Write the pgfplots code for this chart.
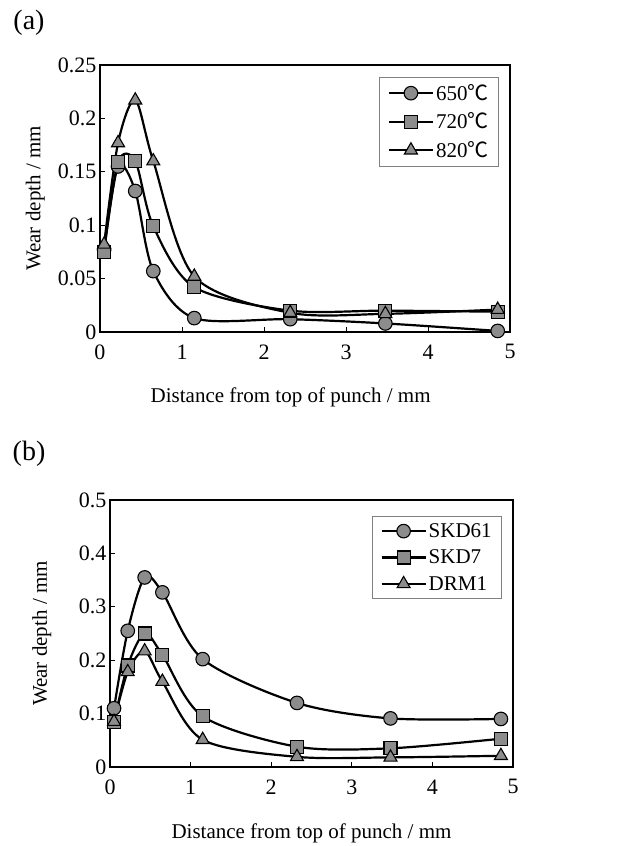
\documentclass[border=0pt]{standalone}
\usepackage{pgfplots}
\pgfplotsset{compat=1.18}
\usepackage{fontspec}
\setmainfont{Liberation Serif}
\newfontfamily\cjk{Noto Sans CJK SC}
\definecolor{mk}{gray}{0.55}
\newcommand{\degC}{{\cjk ℃}}
\pgfplotsset{
  mystyle/.style={
    scale only axis,
    xmin=0, xmax=5,
    axis line style={line width=2.2pt},
    tick align=inside,
    xtick pos=bottom, ytick pos=left,
    major tick length=5pt,
    tick style={line width=0.7pt, black},
    xtick={0,1,2,3,4,5},
    xticklabel style={yshift=-9pt},
    ticklabel style={font=\fontsize{22}{23}\selectfont},
    /pgf/number format/assume math mode=true,
    legend cell align=left,
    legend style={draw=gray, line width=0.8pt, font=\fontsize{21}{22}\selectfont, inner xsep=8pt, inner ysep=5pt, row sep=7pt},
    legend image code/.code={\draw[mark repeat=2,mark phase=2,#1] plot coordinates {(0pt,0pt) (22pt,0pt) (44pt,0pt)};},
  },
  pl/.style={line width=2.2pt, smooth, black, mark options={fill=mk, draw=black, line width=1.1pt, solid}},
  mc/.style={pl, mark=*, mark size=6.8pt},
  ms/.style={pl, mark=square*, mark size=6.5pt},
  mt/.style={pl, mark=triangle*, mark size=7.5pt},
}
\begin{document}
\begin{tikzpicture}
\path[use as bounding box] (0pt,0pt) rectangle (632pt,846pt);
\node[font=\fontsize{28}{30}\selectfont] at (29pt,823pt) {(a)};
\node[font=\fontsize{28}{30}\selectfont] at (29pt,392pt) {(b)};
\begin{axis}[mystyle, at={(100pt,514pt)}, anchor=south west, width=410pt, height=267pt,
  ymin=0, ymax=0.25, ytick={0,0.05,0.1,0.15,0.2,0.25}, yticklabels={0,0.05,0.1,0.15,0.2,0.25},
  xlabel={Distance from top of punch / mm}, ylabel={Wear depth / mm},
  every axis x label/.style={at={(axis description cs:0.465,-0.243)}, anchor=center, font=\fontsize{21}{22}\selectfont},
  every axis y label/.style={at={(axis description cs:-0.158,0.5)}, anchor=center, rotate=90, font=\fontsize{21}{22}\selectfont},
  legend style={at={(0.973,0.955)}, anchor=north east}]
\addplot[mc] coordinates {(0.05,0.077) (0.22,0.155) (0.43,0.132) (0.65,0.057) (1.15,0.013) (2.32,0.012) (3.48,0.008) (4.85,0.001)};
\addlegendentry{650\degC}
\addplot[ms] coordinates {(0.05,0.075) (0.22,0.159) (0.43,0.160) (0.65,0.099) (1.15,0.042) (2.32,0.020) (3.48,0.020) (4.85,0.019)};
\addlegendentry{720\degC}
\addplot[mt] coordinates {(0.05,0.082) (0.22,0.177) (0.43,0.217) (0.65,0.160) (1.15,0.052) (2.32,0.018) (3.48,0.017) (4.85,0.021)};
\addlegendentry{820\degC}
\end{axis}
\begin{axis}[mystyle, at={(110pt,79pt)}, anchor=south west, width=403pt, height=267pt,
  ymin=0, ymax=0.5, ytick={0,0.1,0.2,0.3,0.4,0.5}, yticklabels={0,0.1,0.2,0.3,0.4,0.5},
  xlabel={Distance from top of punch / mm}, ylabel={Wear depth / mm},
  every axis x label/.style={at={(axis description cs:0.5,-0.247)}, anchor=center, font=\fontsize{21}{22}\selectfont},
  every axis y label/.style={at={(axis description cs:-0.169,0.5)}, anchor=center, rotate=90, font=\fontsize{21}{22}\selectfont},
  legend style={at={(0.973,0.94)}, anchor=north east}]
\addplot[mc] coordinates {(0.05,0.110) (0.22,0.255) (0.43,0.355) (0.65,0.327) (1.15,0.202) (2.32,0.120) (3.48,0.091) (4.85,0.090)};
\addlegendentry{SKD61}
\addplot[ms] coordinates {(0.05,0.085) (0.22,0.190) (0.43,0.250) (0.65,0.210) (1.15,0.095) (2.32,0.038) (3.48,0.035) (4.85,0.053)};
\addlegendentry{SKD7}
\addplot[mt] coordinates {(0.05,0.085) (0.22,0.178) (0.43,0.217) (0.65,0.160) (1.15,0.051) (2.32,0.019) (3.48,0.018) (4.85,0.021)};
\addlegendentry{DRM1}
\end{axis}
\end{tikzpicture}
\end{document}
